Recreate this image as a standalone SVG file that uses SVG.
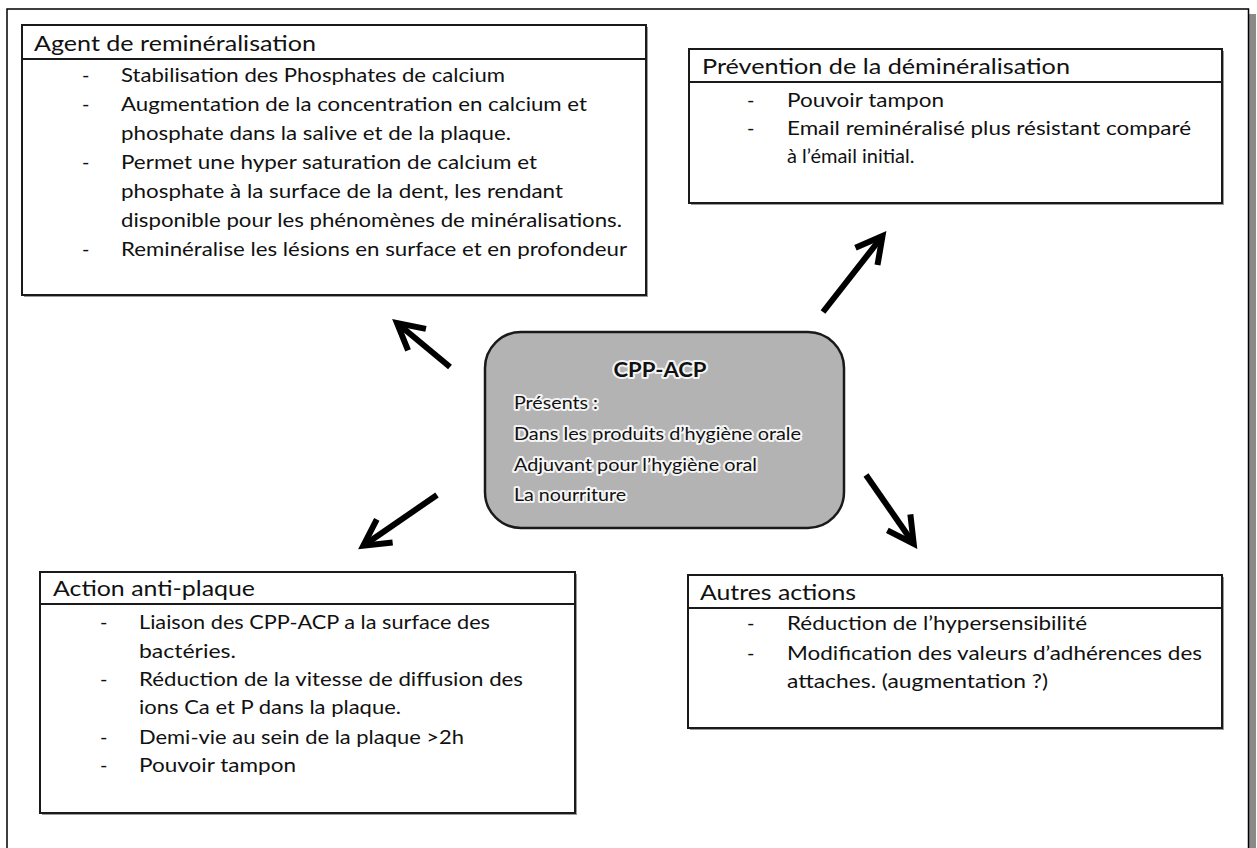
<svg xmlns="http://www.w3.org/2000/svg" width="1257" height="848" viewBox="0 0 1257 848">
<style>
.frame{fill:none;stroke:#000;stroke-width:1.5}
.box{fill:#fff;stroke:#1a1a1a;stroke-width:2}
.shd{fill:#9a9a9a}
.hdr{stroke:#1a1a1a;stroke-width:2}
text{font-family:Lato,"Liberation Sans",sans-serif;fill:#111}
.title{font-size:21px}
.body{font-size:20px}
.ctr{font-size:18px;stroke:#fff;stroke-width:4;stroke-opacity:0.85;paint-order:stroke;stroke-linejoin:round}
.ctrb{font-size:20px;font-weight:bold}
.arrow{fill:none;stroke:#000;stroke-width:6;marker-end:url(#head)}
</style>
<defs>
<marker id="head" markerUnits="userSpaceOnUse" markerWidth="60" markerHeight="60" refX="0" refY="0" orient="auto" overflow="visible">
<path d="M-26,-14 L0,0 L-26,14" fill="none" stroke="#000" stroke-width="6" stroke-linejoin="miter"/>
</marker>
</defs>
<rect x="0" y="0" width="1257" height="848" fill="#fff"/>
<rect x="1249" y="14" width="7" height="834" fill="#8a8a8a"/>
<path class="frame" d="M7,860 L7,9 L1248.5,9 L1248.5,860"/>

<g id="agent">
<rect class="shd" x="24" y="27" width="624" height="270"/>
<rect class="box" x="22" y="25" width="624" height="270"/>
<line class="hdr" x1="22" y1="59" x2="646" y2="59"/>
<text class="title" x="34" y="51" textLength="282" lengthAdjust="spacingAndGlyphs">Agent de reminéralisation</text>
<text class="body" x="82" y="82">-</text>
<text class="body" x="121" y="82" textLength="384" lengthAdjust="spacingAndGlyphs">Stabilisation des Phosphates de calcium</text>
<text class="body" x="82" y="111">-</text>
<text class="body" x="121" y="111" textLength="466" lengthAdjust="spacingAndGlyphs">Augmentation de la concentration en calcium et</text>
<text class="body" x="121" y="140" textLength="390" lengthAdjust="spacingAndGlyphs">phosphate dans la salive et de la plaque.</text>
<text class="body" x="82" y="169">-</text>
<text class="body" x="121" y="169" textLength="416" lengthAdjust="spacingAndGlyphs">Permet une hyper saturation de calcium et</text>
<text class="body" x="121" y="198" textLength="442" lengthAdjust="spacingAndGlyphs">phosphate à la surface de la dent, les rendant</text>
<text class="body" x="121" y="227" textLength="501" lengthAdjust="spacingAndGlyphs">disponible pour les phénomènes de minéralisations.</text>
<text class="body" x="82" y="256">-</text>
<text class="body" x="121" y="256" textLength="506" lengthAdjust="spacingAndGlyphs">Reminéralise les lésions en surface et en profondeur</text>
</g>

<g id="prevention">
<rect class="shd" x="691" y="51" width="533" height="154"/>
<rect class="box" x="689" y="49" width="533" height="154"/>
<line class="hdr" x1="689" y1="82" x2="1222" y2="82"/>
<text class="title" x="702" y="74" textLength="368" lengthAdjust="spacingAndGlyphs">Prévention de la déminéralisation</text>
<text class="body" x="747" y="107">-</text>
<text class="body" x="787" y="107" textLength="157" lengthAdjust="spacingAndGlyphs">Pouvoir tampon</text>
<text class="body" x="747" y="135">-</text>
<text class="body" x="787" y="135" textLength="404" lengthAdjust="spacingAndGlyphs">Email reminéralisé plus résistant comparé</text>
<text class="body" x="787" y="163">à l’émail initial.</text>
</g>

<g id="cpp-acp">
<rect x="485" y="332" width="359" height="196" rx="36" ry="36" fill="#b3b3b3" stroke="#1a1a1a" stroke-width="2.5"/>
<text class="ctr ctrb" x="660" y="377" text-anchor="middle" textLength="93" lengthAdjust="spacingAndGlyphs">CPP-ACP</text>
<text class="ctr" x="514" y="409" textLength="84" lengthAdjust="spacingAndGlyphs">Présents :</text>
<text class="ctr" x="514" y="440" textLength="287" lengthAdjust="spacingAndGlyphs">Dans les produits d’hygiène orale</text>
<text class="ctr" x="514" y="471" textLength="243" lengthAdjust="spacingAndGlyphs">Adjuvant pour l’hygiène oral</text>
<text class="ctr" x="514" y="501" textLength="112" lengthAdjust="spacingAndGlyphs">La nourriture</text>
</g>

<g id="antiplaque">
<rect class="shd" x="42" y="574" width="535" height="241"/>
<rect class="box" x="40" y="572" width="535" height="241"/>
<line class="hdr" x1="40" y1="604" x2="575" y2="604"/>
<text class="title" x="53" y="596" textLength="202" lengthAdjust="spacingAndGlyphs">Action anti-plaque</text>
<text class="body" x="100" y="629">-</text>
<text class="body" x="139" y="629" textLength="351" lengthAdjust="spacingAndGlyphs">Liaison des CPP-ACP a la surface des</text>
<text class="body" x="139" y="658" textLength="97" lengthAdjust="spacingAndGlyphs">bactéries.</text>
<text class="body" x="100" y="686">-</text>
<text class="body" x="139" y="686" textLength="384" lengthAdjust="spacingAndGlyphs">Réduction de la vitesse de diffusion des</text>
<text class="body" x="139" y="714" textLength="262" lengthAdjust="spacingAndGlyphs">ions Ca et P dans la plaque.</text>
<text class="body" x="100" y="744">-</text>
<text class="body" x="139" y="744" textLength="325" lengthAdjust="spacingAndGlyphs">Demi-vie au sein de la plaque &gt;2h</text>
<text class="body" x="100" y="772">-</text>
<text class="body" x="139" y="772" textLength="157" lengthAdjust="spacingAndGlyphs">Pouvoir tampon</text>
</g>

<g id="autres">
<rect class="shd" x="690" y="577" width="534" height="153"/>
<rect class="box" x="688" y="575" width="534" height="153"/>
<line class="hdr" x1="688" y1="608" x2="1222" y2="608"/>
<text class="title" x="700" y="600" textLength="156" lengthAdjust="spacingAndGlyphs">Autres actions</text>
<text class="body" x="747" y="630">-</text>
<text class="body" x="787" y="630" textLength="300" lengthAdjust="spacingAndGlyphs">Réduction de l’hypersensibilité</text>
<text class="body" x="747" y="660">-</text>
<text class="body" x="787" y="660" textLength="415" lengthAdjust="spacingAndGlyphs">Modification des valeurs d’adhérences des</text>
<text class="body" x="787" y="688" textLength="261" lengthAdjust="spacingAndGlyphs">attaches. (augmentation ?)</text>
</g>

<g id="connectors">
<path class="arrow" d="M450,367 L397,323"/>
<path class="arrow" d="M823,312 L882.5,236"/>
<path class="arrow" d="M437,495 L363.3,545.7"/>
<path class="arrow" d="M866,475 L913.7,543.7"/>
</g>
</svg>
